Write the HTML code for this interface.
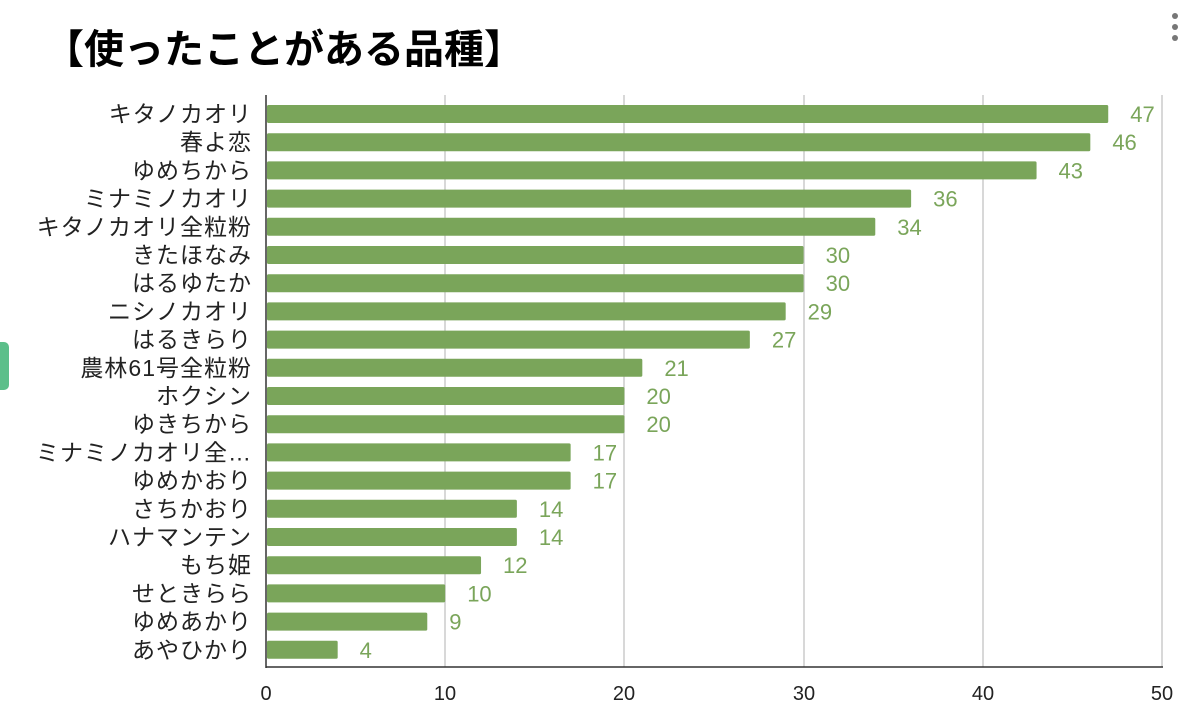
<!DOCTYPE html>
<html><head><meta charset="utf-8"><style>
html,body{margin:0;padding:0;background:#fff;}
svg{display:block;font-family:"Liberation Sans","Noto Sans CJK JP",sans-serif;}
</style></head><body>
<svg width="1192" height="724" viewBox="0 0 1192 724" xmlns="http://www.w3.org/2000/svg">
<rect width="1192" height="724" fill="#fff"/>
<text x="44" y="63" font-size="40" font-weight="bold" fill="#000">【使ったことがある品種】</text>
<circle cx="1175" cy="16" r="3" fill="#777"/><circle cx="1175" cy="27" r="3" fill="#777"/><circle cx="1175" cy="38" r="3" fill="#777"/>
<rect x="-6" y="342" width="15" height="48" rx="5" fill="#5cbf8a"/>
<g stroke="#ccc" stroke-width="1.5">
<line x1="445" y1="95" x2="445" y2="667"/><line x1="624" y1="95" x2="624" y2="667"/><line x1="804" y1="95" x2="804" y2="667"/><line x1="983" y1="95" x2="983" y2="667"/><line x1="1162" y1="95" x2="1162" y2="667"/>
</g>
<g id="bars" fill="#7aa55a"></g>
<g id="labels" font-size="23" letter-spacing="1" fill="#222" text-anchor="end"></g>
<g id="vals" font-size="22" fill="#7aa55a"></g>
<line x1="266" y1="95" x2="266" y2="668" stroke="#333" stroke-width="1.5"/>
<line x1="266" y1="667" x2="1163" y2="667" stroke="#333" stroke-width="1.5"/>
<g font-size="20" fill="#222" text-anchor="middle">
<text x="266" y="700">0</text><text x="445" y="700">10</text><text x="624" y="700">20</text><text x="804" y="700">30</text><text x="983" y="700">40</text><text x="1162" y="700">50</text>
</g>
<script>
var d=[["キタノカオリ",47],["春よ恋",46],["ゆめちから",43],["ミナミノカオリ",36],["キタノカオリ全粒粉",34],["きたほなみ",30],["はるゆたか",30],["ニシノカオリ",29],["はるきらり",27],["農林61号全粒粉",21],["ホクシン",20],["ゆきちから",20],["ミナミノカオリ全…",17],["ゆめかおり",17],["さちかおり",14],["ハナマンテン",14],["もち姫",12],["せときらら",10],["ゆめあかり",9],["あやひかり",4]];
var ns="http://www.w3.org/2000/svg",b=document.getElementById("bars"),l=document.getElementById("labels"),v=document.getElementById("vals");
d.forEach(function(e,i){var y=105+i*28.2,w=e[1]*17.92;
var r=document.createElementNS(ns,"rect");r.setAttribute("x",267);r.setAttribute("y",y);r.setAttribute("width",w-1);r.setAttribute("height",18);r.setAttribute("rx",1.5);b.appendChild(r);
var t=document.createElementNS(ns,"text");t.setAttribute("x",252);t.setAttribute("y",y+17);t.textContent=e[0];l.appendChild(t);
var u=document.createElementNS(ns,"text");u.setAttribute("x",266+w+22);u.setAttribute("y",y+17);u.textContent=e[1];v.appendChild(u);});
</script>
</svg>
</body></html>
